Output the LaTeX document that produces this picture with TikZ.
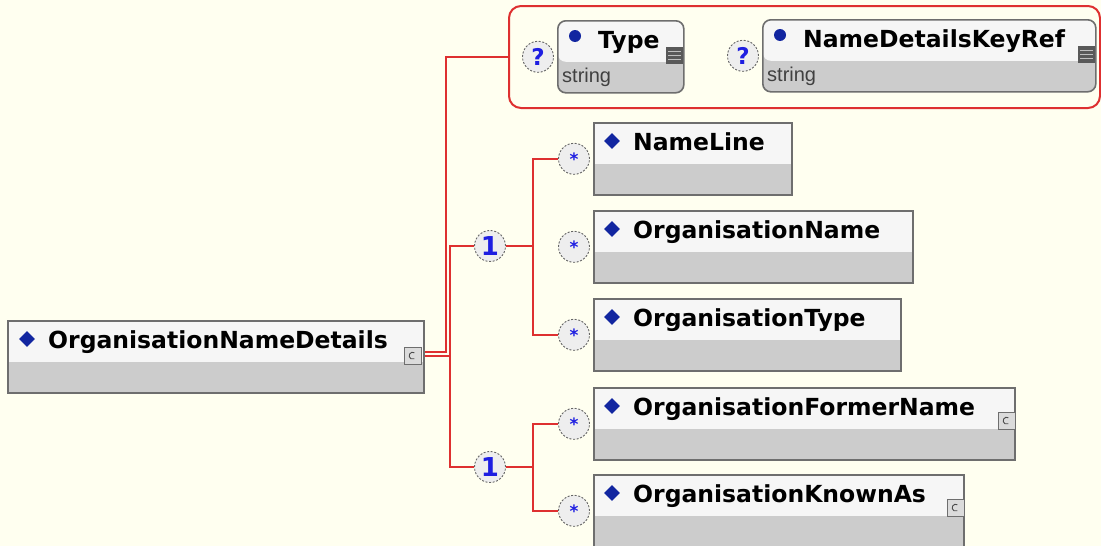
\documentclass[tikz,border=0pt]{standalone}
\usepackage{fontspec}
\setmainfont{DejaVu Sans}
\newfontfamily\strfont{Liberation Sans}
\usetikzlibrary{positioning,calc,shapes.geometric}

\definecolor{canvas}{RGB}{255,255,240}
\definecolor{linkred}{RGB}{222,48,48}
\definecolor{framegray}{RGB}{110,110,110}
\definecolor{lowgray}{RGB}{204,204,204}
\definecolor{topwhite}{RGB}{246,246,246}
\definecolor{markblue}{RGB}{18,38,160}
\definecolor{compblue}{RGB}{30,30,225}
\definecolor{compfill}{RGB}{238,238,238}

\begin{document}
\begin{tikzpicture}[x=1pt, y=-1pt,
    elem/.style={rectangle, draw=framegray, line width=1.6pt, fill=lowgray, anchor=north west,
      minimum height=72pt, inner sep=0pt,
      path picture={\fill[topwhite] (path picture bounding box.north west)
        rectangle ([yshift=-41pt]path picture bounding box.north east);}},
    attrbox/.style={elem, rounded corners=8pt},
    title/.style={anchor=base west, inner sep=0pt, font=\fontsize{23.5}{24}\selectfont\bfseries},
    typename/.style={anchor=base west, inner sep=0pt, font=\strfont\fontsize{20}{20}\selectfont, text=black!75},
    dia/.style={diamond, fill=markblue, inner sep=0pt, minimum size=16pt},
    dot/.style={circle, fill=markblue, inner sep=0pt, minimum size=12pt},
    comp/.style={circle, draw=black!60, line width=0.9pt, dash pattern=on 2pt off 1.6pt, fill=compfill,
      minimum size=31pt, inner sep=0pt, text=compblue},
    cicon/.style={rectangle, draw=framegray, fill=lowgray!70, minimum size=17pt, inner sep=0pt, anchor=north east,
      path picture={\draw[black!70, line width=0.9pt] ([shift={(1.5pt,3pt)}]path picture bounding box.center)
        arc (60:300:3.5pt);}},
    aicon/.style={rectangle, fill=black!65, minimum size=17pt, inner sep=0pt, anchor=north east,
      path picture={\foreach \k in {-4,0,4}
        \draw[black!25, line width=1pt] ([shift={(2pt,\k pt)}]path picture bounding box.west)
          -- ([shift={(-2pt,\k pt)}]path picture bounding box.east);}},
    link/.style={draw=linkred, line width=2pt}]

  \useasboundingbox (0,0) rectangle (1101,546);
  \fill[canvas] (0,0) rectangle (1101,546);

  % root element
  \node[elem, minimum width=416pt] (main) at (7,320) {};
  \node[dia] at ([shift={(20pt,-19pt)}]main.north west) {};
  \node[title] at ([shift={(41pt,-28pt)}]main.north west) {OrganisationNameDetails};
  \node[cicon] at ([shift={(-3pt,-27pt)}]main.north east) {};

  % attributes
  \node[rectangle, draw=linkred, line width=2pt, rounded corners=12pt, anchor=north west,
    minimum width=591pt, minimum height=102pt, inner sep=0pt] (attrs) at (508,5) {};
  \node[attrbox, minimum width=126pt] (type) at (557,20) {};
  \node[dot] at ([shift={(18pt,-16pt)}]type.north west) {};
  \node[title] at ([shift={(41pt,-28pt)}]type.north west) {Type};
  \node[typename] at ([shift={(5pt,-62pt)}]type.north west) {string};
  \node[aicon] at ([shift={(-1pt,-27pt)}]type.north east) {};
  \node[comp, font=\fontsize{23}{23}\selectfont\bfseries] (qtype) at ([xshift=-19pt]type.west) {?};

  \node[attrbox, minimum width=333pt] (keyref) at (762,19) {};
  \node[dot] at ([shift={(18pt,-16pt)}]keyref.north west) {};
  \node[title] at ([shift={(41pt,-28pt)}]keyref.north west) {NameDetailsKeyRef};
  \node[typename] at ([shift={(5pt,-62pt)}]keyref.north west) {string};
  \node[aicon] at ([shift={(-1pt,-27pt)}]keyref.north east) {};
  \node[comp, font=\fontsize{23}{23}\selectfont\bfseries] (qkey) at ([xshift=-19pt]keyref.west) {?};

  % child elements
  \foreach \nm/\ty/\w/\txt in {nl/122/198/NameLine, on/210/319/OrganisationName,
      ot/298/307/OrganisationType, of/387/421/OrganisationFormerName, ok/474/370/OrganisationKnownAs} {
    \node[elem, minimum width=\w pt] (\nm) at (593,\ty) {};
    \node[dia] at ([shift={(19pt,-19pt)}]\nm.north west) {};
    \node[title] at ([shift={(40pt,-28pt)}]\nm.north west) {\txt};
    \node[comp, font=\fontsize{17}{17}\selectfont\bfseries] (s\nm) at ([xshift=-19pt]\nm.west) {*};
  }
  \node[cicon] at ([shift={(0pt,-25pt)}]of.north east) {};
  \node[cicon] at ([shift={(0pt,-25pt)}]ok.north east) {};

  % compositors
  \node[comp, font=\fontsize{26}{26}\selectfont\bfseries] (c1) at (490,246) {1};
  \node[comp, font=\fontsize{26}{26}\selectfont\bfseries] (c2) at (490,467) {1};

  \draw[link] ([yshift=5pt]main.east) -- ++(21,0) |- (attrs.west);
  \draw[link] ([yshift=1pt]main.east) -- ++(25,0) |- (c1.west);
  \draw[link] ([yshift=1pt]main.east) -- ++(25,0) |- (c2.west);
  \draw[link] (c1.east) -- ++(27,0) |- (snl.west);
  \draw[link] (c1.east) -- ++(27,0) |- (sot.west);
  \draw[link] (c2.east) -- ++(27,0) |- (sof.west);
  \draw[link] (c2.east) -- ++(27,0) |- (sok.west);
\end{tikzpicture}
\end{document}
